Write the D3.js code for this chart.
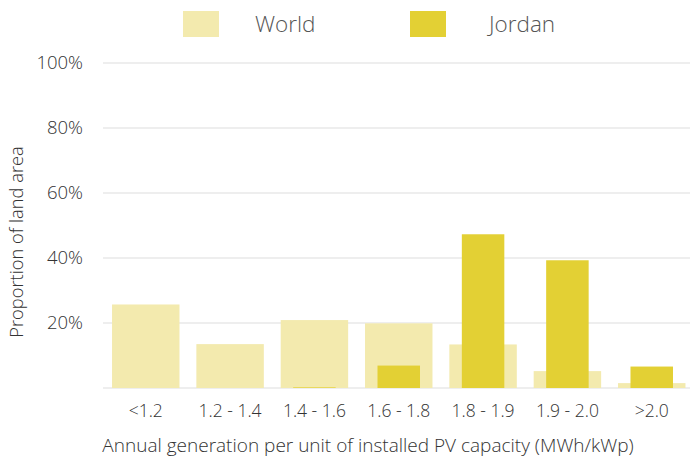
<!DOCTYPE html>
<html>
<head>
<meta charset="utf-8">
<script src="https://cdn.jsdelivr.net/npm/d3@7"></script>
<style>
  body { margin: 0; background: #fff; }
  text { font-family: "Open Sans", "Lato", sans-serif; font-weight: 300; fill: #333; }
</style>
</head>
<body>
<div id="chart"></div>
<script>
const width = 690;
const height = 464;

const categories = ["<1.2", "1.2 - 1.4", "1.4 - 1.6", "1.6 - 1.8", "1.8 - 1.9", "1.9 - 2.0", ">2.0"];
const worldValues = [25.7, 13.5, 20.9, 19.9, 13.4, 5.2, 1.5];
const jordanValues = [0, 0, 0.2, 6.9, 47.3, 39.3, 6.6];
const yTicks = [0, 20, 40, 60, 80, 100];
const seriesNames = ["World", "Jordan"];
const colors = { World: "#f3eaae", Jordan: "#e3d034" };

const svg = d3.select("#chart")
    .append("svg")
    .attr("width", width)
    .attr("height", height);

const x = d3.scaleBand()
    .domain(categories)
    .range([103.6, 693.9])
    .paddingInner(0.2)
    .paddingOuter(0.1);

const y = d3.scaleLinear()
    .domain([0, 100])
    .range([388, 63]);

// gridlines
svg.append("g")
    .selectAll("line")
    .data(yTicks)
    .join("line")
    .attr("x1", 103)
    .attr("x2", 690)
    .attr("y1", d => y(d))
    .attr("y2", d => y(d))
    .attr("stroke", "#eeeeee")
    .attr("stroke-width", 2);

// y tick labels (no label at 0)
svg.append("g")
    .selectAll("text")
    .data(yTicks.filter(d => d > 0))
    .join("text")
    .attr("x", 83)
    .attr("y", d => y(d))
    .attr("dy", "0.35em")
    .attr("text-anchor", "end")
    .style("font-size", "18.5px")
    .text(d => d + "%");

// world bars
svg.append("g")
    .selectAll("rect")
    .data(categories)
    .join("rect")
    .attr("x", d => x(d))
    .attr("width", x.bandwidth())
    .attr("y", (d, i) => y(worldValues[i]))
    .attr("height", (d, i) => y(0) - y(worldValues[i]))
    .attr("fill", colors.World);

// jordan bars, narrower, centred in the band
const jw = x.bandwidth() * 0.63;
svg.append("g")
    .selectAll("rect")
    .data(categories)
    .join("rect")
    .attr("x", d => x(d) + (x.bandwidth() - jw) / 2)
    .attr("width", jw)
    .attr("y", (d, i) => y(jordanValues[i]))
    .attr("height", (d, i) => y(0) - y(jordanValues[i]))
    .attr("fill", colors.Jordan);

// x tick labels
svg.append("g")
    .selectAll("text")
    .data(categories)
    .join("text")
    .attr("x", d => x(d) + x.bandwidth() / 2)
    .attr("y", 417)
    .attr("text-anchor", "middle")
    .style("font-size", "17.5px")
    .text(d => d);

// axis titles
svg.append("text")
    .attr("x", 368)
    .attr("y", 452)
    .attr("text-anchor", "middle")
    .style("font-size", "19px")
    .text("Annual generation per unit of installed PV capacity (MWh/kWp)");

svg.append("text")
    .attr("transform", "translate(23,242) rotate(-90)")
    .attr("text-anchor", "middle")
    .style("font-size", "18.3px")
    .text("Proportion of land area");

// legend
const legendX = [183, 410];
const legend = svg.append("g")
    .selectAll("g")
    .data(seriesNames)
    .join("g")
    .attr("transform", (d, i) => `translate(${legendX[i]},11)`);

legend.append("rect")
    .attr("width", 36)
    .attr("height", 26)
    .attr("fill", d => colors[d]);

legend.append("text")
    .attr("x", d => d === "World" ? 72 : 79)
    .attr("y", 21)
    .style("font-size", "22.5px")
    .style("fill", "#555")
    .text(d => d);
</script>
</body>
</html>
